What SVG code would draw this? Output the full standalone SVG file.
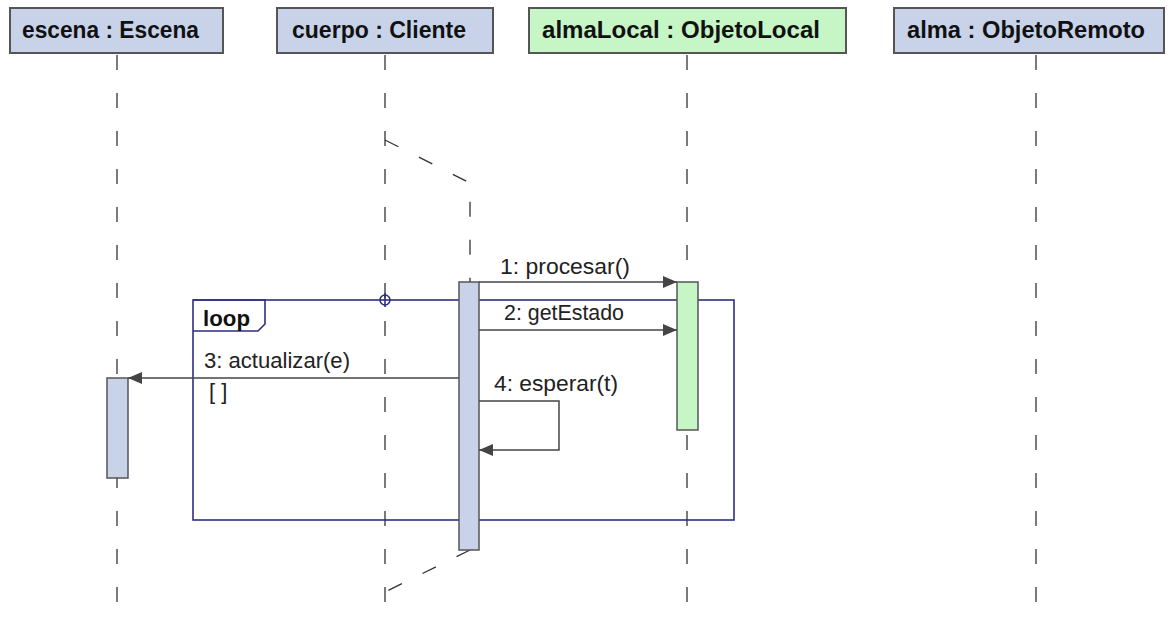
<svg xmlns="http://www.w3.org/2000/svg" width="1170" height="619" viewBox="0 0 1170 619">
<style>
.head{fill:#C8D3E9;stroke:#555;stroke-width:2}
.headg{fill:#C6F5C6;stroke:#555;stroke-width:2}
.ht{font-family:"Liberation Sans",Arial,sans-serif;font-weight:bold;font-size:23px;fill:#111}
.life{stroke:#333;stroke-width:1.3;stroke-dasharray:15 23;fill:none}
.act{fill:#C8D3E9;stroke:#555;stroke-width:1.5}
.actg{fill:#C6F5C6;stroke:#555;stroke-width:1.5}
.msg{stroke:#444;stroke-width:1.5;fill:none}
.mt{font-family:"Liberation Sans",Arial,sans-serif;font-size:22px;fill:#222}
.frame{stroke:#2E2E80;stroke-width:1.6;fill:none}
</style>
<defs>
<marker id="ah" viewBox="0 0 14 12" refX="14" refY="6" markerWidth="14" markerHeight="12" markerUnits="userSpaceOnUse" orient="auto">
<path d="M0,0 L14,6 L0,12 Z" fill="#444"/>
</marker>
</defs>
<rect width="1170" height="619" fill="#fff"/>

<g id="escena">
<line class="life" x1="117" y1="55" x2="117" y2="619"/>
<rect class="head" x="10" y="8" width="213" height="45"/>
<text class="ht" x="22" y="38" textLength="177" lengthAdjust="spacingAndGlyphs">escena : Escena</text>
<rect class="act" x="107" y="378" width="21" height="100"/>
</g>

<g id="cuerpo">
<line class="life" x1="385" y1="55" x2="385" y2="619"/>
<rect class="head" x="277" y="8" width="216" height="45"/>
<text class="ht" x="292" y="38" textLength="174" lengthAdjust="spacingAndGlyphs">cuerpo : Cliente</text>
</g>

<g id="almaLocal">
<line class="life" x1="687" y1="55" x2="687" y2="619"/>
<rect class="headg" x="529" y="8" width="317" height="45"/>
<text class="ht" x="542" y="38" textLength="278" lengthAdjust="spacingAndGlyphs">almaLocal : ObjetoLocal</text>
</g>

<g id="alma">
<line class="life" x1="1036" y1="55" x2="1036" y2="619"/>
<rect class="head" x="894" y="8" width="270" height="45"/>
<text class="ht" x="907" y="38" textLength="238" lengthAdjust="spacingAndGlyphs">alma : ObjetoRemoto</text>
</g>

<g id="loop">
<rect class="frame" x="193" y="300" width="541" height="220"/>
<path class="frame" d="M193,300 L265,300 L265,324 L258,331 L193,331"/>
<text x="203" y="326" style="font-family:'Liberation Sans',Arial,sans-serif;font-weight:bold;font-size:22px;fill:#111" textLength="47" lengthAdjust="spacingAndGlyphs">loop</text>
<circle cx="385" cy="300" r="5" fill="none" stroke="#2E2E80" stroke-width="1.6"/>
<line x1="385" y1="293" x2="385" y2="307" stroke="#2E2E80" stroke-width="1.6"/>
</g>

<g id="cuerpo-activation">
<path class="life" d="M385,140 L470,183 L470,282"/>
<path class="life" d="M470,550 L385,592"/>
<rect class="act" x="459" y="282" width="20" height="268"/>
</g>

<g id="almaLocal-activation">
<rect class="actg" x="677" y="282" width="21" height="148"/>
</g>

<g id="connectors">
<line class="msg" x1="479" y1="282" x2="677" y2="282" marker-end="url(#ah)"/>
<text class="mt" x="500" y="274" textLength="130" lengthAdjust="spacingAndGlyphs">1: procesar()</text>
<line class="msg" x1="479" y1="330" x2="677" y2="330" marker-end="url(#ah)"/>
<text class="mt" x="504" y="320" textLength="120" lengthAdjust="spacingAndGlyphs">2: getEstado</text>
<line class="msg" x1="459" y1="378" x2="128" y2="378" marker-end="url(#ah)"/>
<text class="mt" x="204" y="368" textLength="146" lengthAdjust="spacingAndGlyphs">3: actualizar(e)</text>
<text class="mt" x="209" y="399">[ ]</text>
<path class="msg" d="M479,401 L559,401 L559,450 L479,450" marker-end="url(#ah)"/>
<text class="mt" x="494" y="391" textLength="124" lengthAdjust="spacingAndGlyphs">4: esperar(t)</text>
</g>
</svg>
